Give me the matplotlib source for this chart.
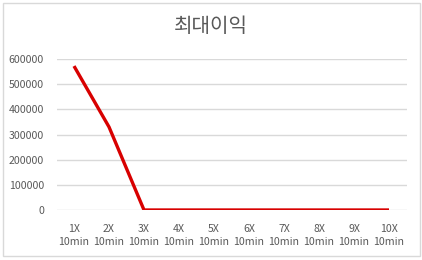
import matplotlib
matplotlib.use('Agg')
import matplotlib.pyplot as plt
from matplotlib.patches import Rectangle

plt.rcParams['font.family'] = ['Noto Sans CJK KR', 'DejaVu Sans']

# data
categories = ['1X\n10min', '2X\n10min', '3X\n10min', '4X\n10min', '5X\n10min',
              '6X\n10min', '7X\n10min', '8X\n10min', '9X\n10min', '10X\n10min']
max_profit = [572000, 330000, 0, 0, 0, 0, 0, 0, 0, 0]
yticks = [0, 100000, 200000, 300000, 400000, 500000, 600000]

fig = plt.figure(figsize=(4.22, 2.60), dpi=100)
fig.patch.set_facecolor('white')

# chart frame like excel
fig.patches.append(Rectangle((2.5 / 422, 1 - 255.5 / 260), 417 / 422, 253 / 260,
                             transform=fig.transFigure, fill=False,
                             edgecolor='#d9d9d9', linewidth=1))

ax = fig.add_axes([56.5 / 422, 1 - 210 / 260, 350 / 422, 151 / 260])
x = range(len(categories))
ax.plot(x, max_profit, color='#d80000', linewidth=2.4, solid_capstyle='butt')

ax.set_xlim(-0.5, len(categories) - 0.5)
ax.set_ylim(0, 600000)
ax.set_yticks(yticks)
ax.set_yticklabels([str(v) for v in yticks])
ax.set_xticks(list(x))
ax.set_xticklabels(categories, linespacing=1.4)
ax.grid(axis='y', color='#d9d9d9', linewidth=1)
ax.set_axisbelow(True)
for s in ax.spines.values():
    s.set_visible(False)
ax.tick_params(length=0, labelsize=7.6, labelcolor='#595959')
ax.tick_params(axis='y', pad=9)
ax.tick_params(axis='x', pad=10)

fig.text(211 / 422, 1 - 27 / 260, '최대이익', ha='center', va='center',
         fontsize=14.5, color='#595959')

plt.savefig('out.png', dpi=100)
